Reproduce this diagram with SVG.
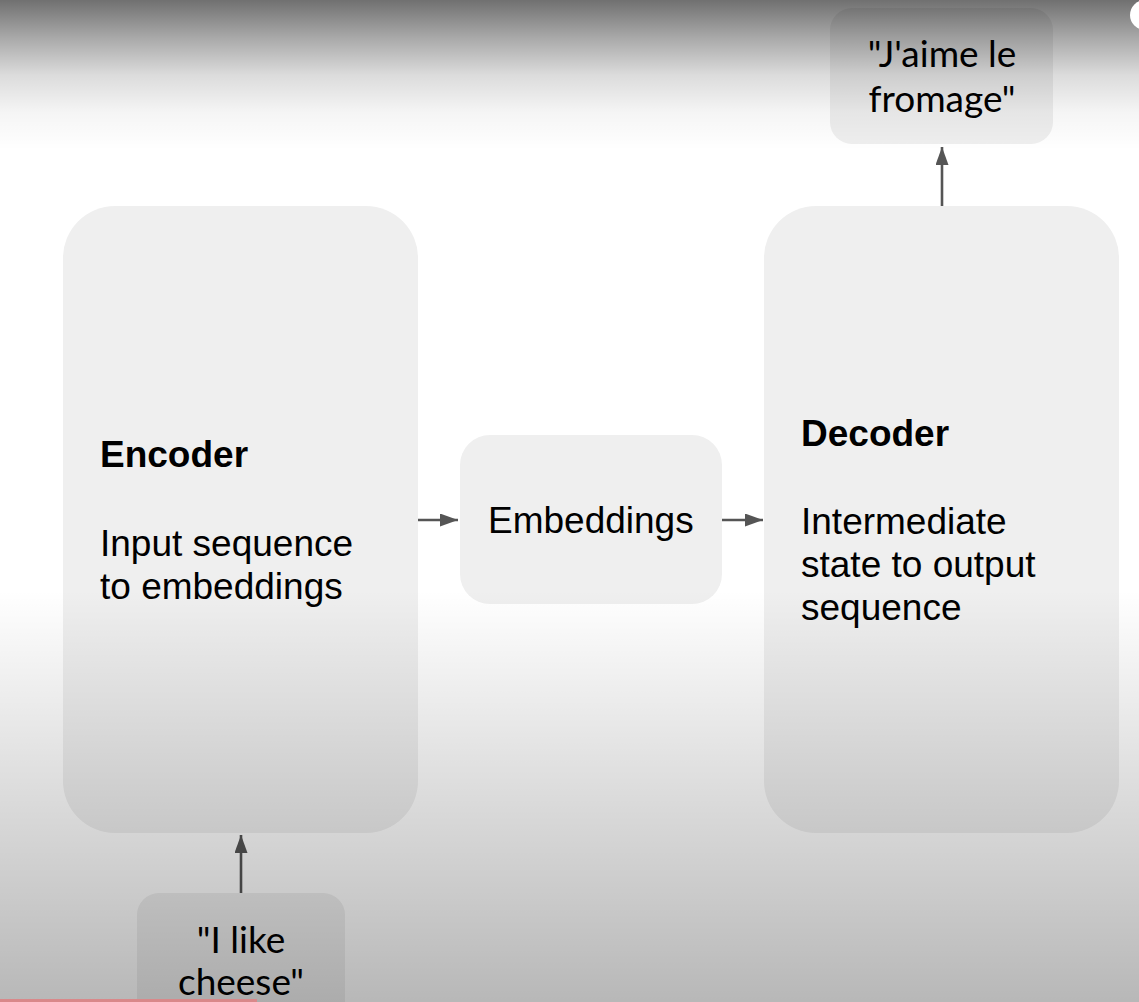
<svg xmlns="http://www.w3.org/2000/svg" width="1139" height="1002" viewBox="0 0 1139 1002">
<defs>
<linearGradient id="topShade" x1="0" y1="0" x2="0" y2="1">
<stop offset="0" stop-color="#000" stop-opacity="0.56"/>
<stop offset="0.25" stop-color="#000" stop-opacity="0.34"/>
<stop offset="0.5" stop-color="#000" stop-opacity="0.14"/>
<stop offset="0.75" stop-color="#000" stop-opacity="0.04"/>
<stop offset="1" stop-color="#000" stop-opacity="0"/>
</linearGradient>
<linearGradient id="botShade" x1="0" y1="0" x2="0" y2="1">
<stop offset="0" stop-color="#000" stop-opacity="0"/>
<stop offset="1" stop-color="#000" stop-opacity="0.28"/>
</linearGradient>
<marker id="arrow" viewBox="0 0 18 13" refX="18" refY="6.5" markerWidth="18" markerHeight="13" markerUnits="userSpaceOnUse" orient="auto">
<path d="M0,0 L18,6.5 L0,13 Z" fill="#555"/>
</marker>
</defs>
<style>
.box{fill:#efefef;}
.t{font-family:"Liberation Sans",Arial,sans-serif;font-size:37px;fill:#000;}
.b{font-weight:bold;}
.q{font-family:Lato,"Open Sans",sans-serif;font-size:37px;fill:#000;text-anchor:middle;}
.conn{stroke:#555;stroke-width:2.6;fill:none;marker-end:url(#arrow);}
</style>
<rect x="0" y="0" width="1139" height="1002" fill="#fff"/>

<g id="encoder">
<rect class="box" x="63" y="206" width="355" height="627" rx="52"/>
<text class="t b" x="100" y="467">Encoder</text>
<text class="t" x="100" y="556">Input sequence</text>
<text class="t" x="100" y="599">to embeddings</text>
</g>

<g id="embeddings">
<rect class="box" x="460" y="435" width="262" height="169" rx="30"/>
<text class="t" x="488" y="533">Embeddings</text>
</g>

<g id="decoder">
<rect class="box" x="764" y="206" width="355" height="627" rx="52"/>
<text class="t b" x="801" y="446">Decoder</text>
<text class="t" x="801" y="534">Intermediate</text>
<text class="t" x="801" y="577">state to output</text>
<text class="t" x="801" y="620">sequence</text>
</g>

<g id="output">
<rect class="box" x="830" y="8" width="223" height="136" rx="22"/>
<text class="q" x="942" y="67">"J'aime le</text>
<text class="q" x="942" y="112">fromage"</text>
</g>

<g id="input">
<rect class="box" x="137" y="893" width="208" height="130" rx="22"/>
<text class="q" x="241" y="953">"I like</text>
<text class="q" x="241" y="995">cheese"</text>
</g>

<g id="connectors">
<line class="conn" x1="418" y1="520" x2="458" y2="520"/>
<line class="conn" x1="722" y1="520" x2="763" y2="520"/>
<line class="conn" x1="241" y1="893" x2="241" y2="835"/>
<line class="conn" x1="942" y1="206" x2="942" y2="147"/>
</g>

<rect x="0" y="0" width="1139" height="150" fill="url(#topShade)"/>
<rect x="0" y="590" width="1139" height="412" fill="url(#botShade)"/>
<circle cx="1145" cy="15" r="15" fill="#fff"/>
<rect x="0" y="999" width="257" height="3" fill="#d9888a"/>
</svg>
